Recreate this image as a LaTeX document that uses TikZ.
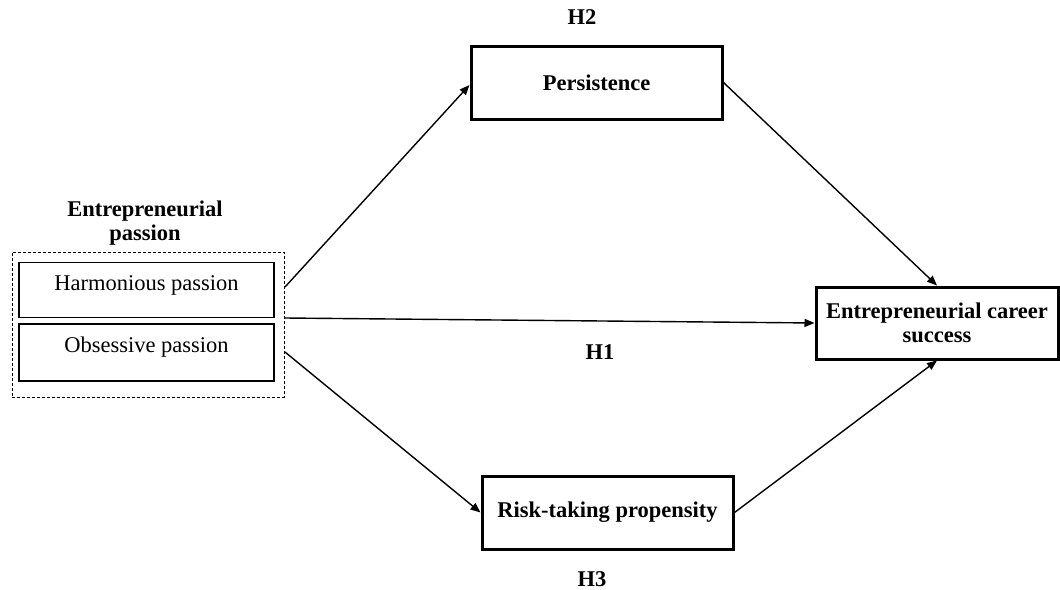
\documentclass[tikz,border=0pt]{standalone}
\usepackage{fontspec}
\setmainfont{Liberation Serif}
\usetikzlibrary{arrows.meta}
\begin{document}
\begin{tikzpicture}[x=1pt,y=-1pt,
  font=\fontsize{22.5}{25}\selectfont,
  mainbox/.style={draw,line width=3pt,font=\fontsize{22.5}{25}\selectfont\bfseries,align=center,inner sep=0pt},
  subbox/.style={draw,line width=1.8pt,inner sep=0pt},
  grpbox/.style={draw,dashed,line width=0.8pt,dash pattern=on 3pt off 2pt,inner sep=0pt},
  lbl/.style={font=\fontsize{22.5}{25}\selectfont\bfseries,align=center,inner sep=0pt},
  conn/.style={line width=1.4pt,-{Triangle[length=10pt,width=8pt]}}]
\useasboundingbox (0,0) rectangle (1060,589);
\node[grpbox,minimum width=272pt,minimum height=145pt] (grp) at (148,324.5) {};
\node[subbox,minimum width=255pt,minimum height=55pt] (hp) at (146.5,290) {};
\node (hpt) at (146.5,285) {Harmonious passion};
\node[subbox,minimum width=255pt,minimum height=57pt] (op) at (146.5,352.5) {};
\node (opt) at (146.5,347) {Obsessive passion};
\node[lbl] (ep) at (145,223) {Entrepreneurial\\[-1pt]passion};
\node[mainbox,minimum width=251pt,minimum height=73pt] (per) at (596.5,82.5) {Persistence};
\node[mainbox,minimum width=251pt,minimum height=73pt] (risk) at (607.5,512.5) {Risk-taking propensity};
\node[mainbox,minimum width=242pt,minimum height=72pt] (ecs) at (937,323) {Entrepreneurial career\\[-1pt]success};
\node[lbl] (h2) at (582,17) {H2};
\node[lbl] (h1) at (600,352) {H1};
\node[lbl,anchor=base,text depth=0pt] (h3) at (592,586) {H3};
\coordinate (s1) at (285,287);
\coordinate (s2) at (285,318);
\coordinate (s3) at (285,352);
\draw[conn] (s1) -- (per.west |- 0,85);
\draw[conn] (s2) -- (ecs.west);
\draw[conn] (s3) -- (risk.west);
\draw[conn] (per.east) -- (ecs.north);
\draw[conn] (risk.east) -- (ecs.south);
\end{tikzpicture}
\end{document}
